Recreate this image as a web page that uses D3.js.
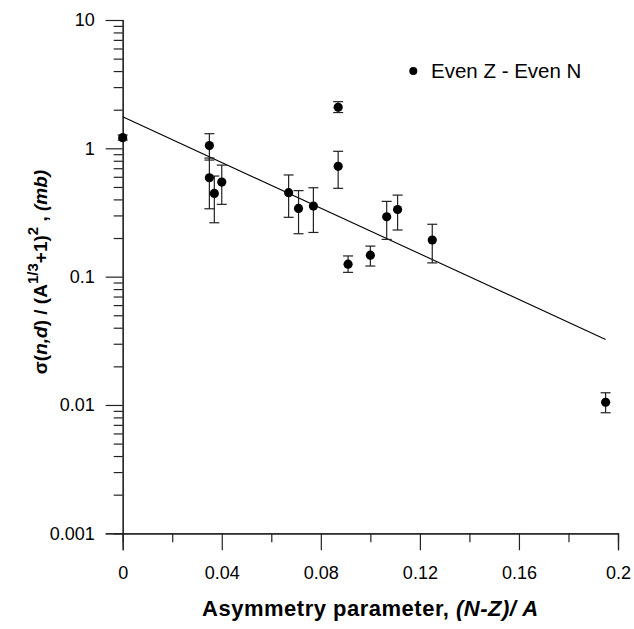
<!DOCTYPE html>
<html>
<head>
<meta charset="utf-8">
<script src="https://cdn.jsdelivr.net/npm/d3@7"></script>
<style>
    body { margin: 0; background: #fff; }
    text { font-family: Arial, "Liberation Sans", sans-serif; fill: #000; }
</style>
</head>
<body>
<div id="chart"></div>
<script>
// Data (Even Z - Even N nuclei)
var asym = [0, 0.035, 0.035, 0.037, 0.040, 0.067, 0.071, 0.077, 0.087, 0.087, 0.091, 0.100, 0.1066, 0.111, 0.125, 0.195];
var sigma = [1.21, 1.05, 0.59, 0.445, 0.546, 0.451, 0.34, 0.355, 2.09, 0.724, 0.125, 0.147, 0.293, 0.333, 0.193, 0.0105];
var sigmaLow = [1.16, 0.81, 0.338, 0.263, 0.366, 0.29, 0.216, 0.221, 1.90, 0.488, 0.108, 0.121, 0.195, 0.231, 0.128, 0.0087];
var sigmaHigh = [1.27, 1.30, 0.84, 0.608, 0.74, 0.62, 0.468, 0.493, 2.31, 0.948, 0.145, 0.173, 0.386, 0.432, 0.256, 0.01245];

// fitted exponential (straight on log axis)
var fitX = [0, 0.195];
var fitY = [1.76, 0.0324];

// ticks
var xMajor = [0, 0.04, 0.08, 0.12, 0.16, 0.2];
var xLabels = ["0", "0.04", "0.08", "0.12", "0.16", "0.2"];
var xMinor = [0.02, 0.06, 0.10, 0.14, 0.18];
var yMajor = [0.001, 0.01, 0.1, 1, 10];
var yLabels = ["0.001", "0.01", "0.1", "1", "10"];

var svgWidth = 634;
var svgHeight = 629;

var margin = {
    top: 20,
    right: 16,
    bottom: 95.7,
    left: 122.7
};

var width = svgWidth - margin.left - margin.right;
var height = svgHeight - margin.top - margin.bottom;

var svg = d3.select("#chart")
    .append("svg")
    .attr("width", svgWidth)
    .attr("height", svgHeight);

var chartGroup = svg.append("g")
    .attr("transform", `translate(${margin.left}, ${margin.top})`);

// scales
var xLinearScale = d3.scaleLinear()
    .domain([0, 0.2])
    .range([0, width]);

var yLogScale = d3.scaleLog()
    .domain([0.001, 10])
    .range([height, 0]);

// minor y ticks 2..9 in each decade
var yMinor = [];
yMajor.slice(0, 4).forEach(function(d) {
    for (var k = 2; k <= 9; k++) yMinor.push(d * k);
});

// axes
var bottomAxis = d3.axisBottom(xLinearScale)
    .tickValues(xMajor)
    .tickSize(17)
    .tickPadding(16)
    .tickFormat((d, i) => xLabels[i]);

var bottomMinor = d3.axisBottom(xLinearScale)
    .tickValues(xMinor)
    .tickSize(9)
    .tickFormat("");

var leftAxis = d3.axisLeft(yLogScale)
    .tickValues(yMajor)
    .tickSize(17)
    .tickPadding(11)
    .tickFormat((d, i) => yLabels[i]);

var leftMinor = d3.axisLeft(yLogScale)
    .tickValues(yMinor)
    .tickSize(9)
    .tickFormat("");

var xAxis = chartGroup.append("g")
    .attr("transform", `translate(0, ${height})`)
    .call(bottomAxis);

chartGroup.append("g")
    .attr("transform", `translate(0, ${height})`)
    .call(bottomMinor);

var yAxis = chartGroup.append("g")
    .call(leftAxis);

chartGroup.append("g")
    .call(leftMinor);

chartGroup.selectAll(".domain")
    .attr("stroke", "#222")
    .attr("stroke-width", 1.2);
chartGroup.selectAll(".tick line")
    .attr("stroke", "#222")
    .attr("stroke-width", 1.2);
chartGroup.selectAll(".tick text")
    .attr("font-size", 18)
    .attr("font-family", "Arial, 'Liberation Sans', sans-serif")
    .attr("fill", "#000");

// fit line
var line = d3.line()
    .x(d => xLinearScale(d[0]))
    .y(d => yLogScale(d[1]));

chartGroup.append("path")
    .datum(fitX.map((d, i) => [d, fitY[i]]))
    .attr("d", line)
    .attr("fill", "none")
    .attr("stroke", "#000")
    .attr("stroke-width", 1.1);

// error bars
var points = asym.map((d, i) => ({x: d, y: sigma[i], lo: sigmaLow[i], hi: sigmaHigh[i]}));

var errGroup = chartGroup.selectAll("g.err")
    .data(points)
    .enter()
    .append("g")
    .attr("class", "err")
    .attr("stroke", "#222")
    .attr("stroke-width", 1.2);

errGroup.append("line")
    .attr("x1", d => xLinearScale(d.x))
    .attr("x2", d => xLinearScale(d.x))
    .attr("y1", d => yLogScale(d.lo))
    .attr("y2", d => yLogScale(d.hi));

errGroup.append("line")
    .attr("x1", d => xLinearScale(d.x) - 5)
    .attr("x2", d => xLinearScale(d.x) + 5)
    .attr("y1", d => yLogScale(d.hi))
    .attr("y2", d => yLogScale(d.hi));

errGroup.append("line")
    .attr("x1", d => xLinearScale(d.x) - 5)
    .attr("x2", d => xLinearScale(d.x) + 5)
    .attr("y1", d => yLogScale(d.lo))
    .attr("y2", d => yLogScale(d.lo));

// points
chartGroup.selectAll("circle.pt")
    .data(points)
    .enter()
    .append("circle")
    .attr("class", "pt")
    .attr("cx", d => xLinearScale(d.x))
    .attr("cy", d => yLogScale(d.y))
    .attr("r", 4.6)
    .attr("fill", "#000");

// legend
svg.append("circle")
    .attr("cx", 413.3)
    .attr("cy", 71)
    .attr("r", 4)
    .attr("fill", "#000");

svg.append("text")
    .attr("x", 431)
    .attr("y", 78)
    .attr("font-size", 20.5)
    .text("Even Z - Even N");

// x axis title
var xTitle = svg.append("text")
    .attr("x", margin.left + width / 2)
    .attr("y", 616)
    .attr("text-anchor", "middle")
    .attr("font-size", 22)
    .attr("letter-spacing", 0.5)
    .attr("font-weight", "bold");
xTitle.append("tspan").text("Asymmetry parameter, ");
xTitle.append("tspan").attr("font-style", "italic").text("(N-Z)/ A");

// y axis title (rotated)
var yTitle = svg.append("text")
    .attr("transform", "rotate(-90)")
    .attr("x", -272)
    .attr("y", 47)
    .attr("text-anchor", "middle")
    .attr("font-size", 19)
    .attr("font-weight", "bold");
yTitle.append("tspan").text("σ(");
yTitle.append("tspan").attr("font-style", "italic").text("n,d");
yTitle.append("tspan").text(") / (A");
yTitle.append("tspan").attr("dy", -9).attr("font-size", 15).text("1/3");
yTitle.append("tspan").attr("dy", 9).text("+1)");
yTitle.append("tspan").attr("dy", -9).attr("font-size", 15).text("2");
yTitle.append("tspan").attr("dy", 9).text(" , ");
yTitle.append("tspan").attr("font-style", "italic").text("(mb)");
</script>
</body>
</html>
